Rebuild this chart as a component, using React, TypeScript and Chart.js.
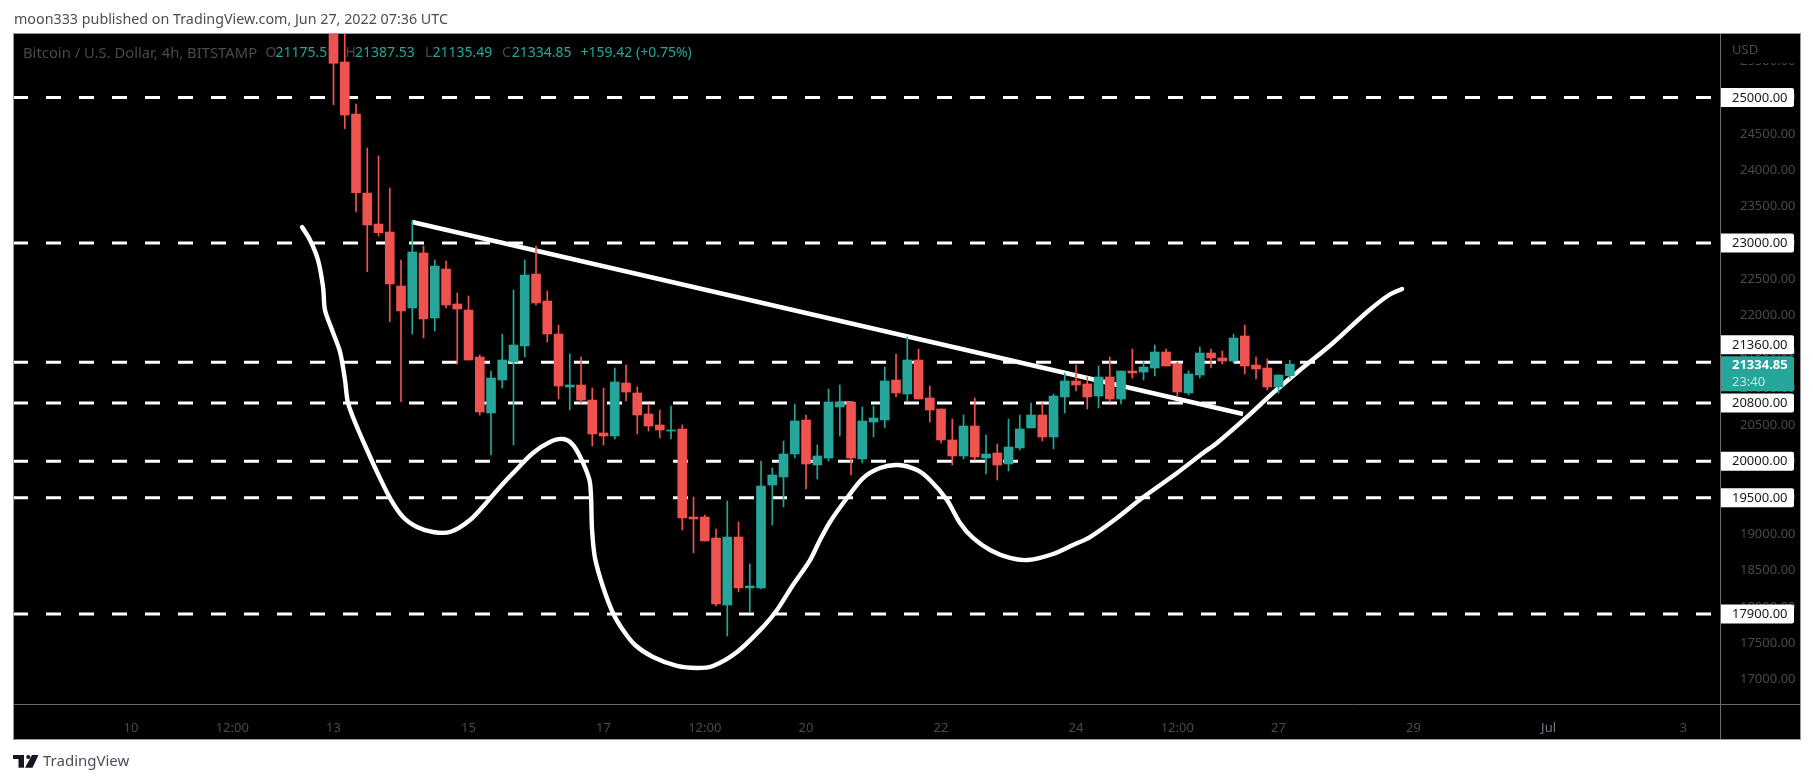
import React, { useEffect, useRef } from "react";
import { Chart, registerables } from "chart.js";

Chart.register(...registerables);

// x values are 4h candle numbers counted from Jun 10 00:00
const firstCandle = 18;
const opens = [26500,25488,24773,23687,23261,23151,22409,22107,22863,21969,22643,22162,22079,21433,20664,21117,21365,21585,22574,22203,21749,21021,21049,20842,20389,20348,21076,20939,20650,20499,20416,20444,19234,19234,18946,18025,18959,18259,18259,19674,19784,20100,20568,19949,20045,20746,20815,20032,20540,20568,21117,20925,21392,20870,20719,20293,20073,20485,20045,20114,19963,20183,20458,20636,20334,20884,21104,21063,20897,21159,20856,21241,21227,21282,21502,21337,20939,21186,21488,21420,21378,21722,21323,21282,21021,21175.51];
const highs = [26700,26000,24911,24306,24196,23756,22767,23307,22959,22767,22753,22313,22272,21461,21241,21749,22354,22767,22959,22340,21873,21475,21433,21007,21007,21282,21323,21021,20787,20705,20760,20499,19509,19262,19069,19454,19166,18588,20004,19908,20279,20787,20636,20224,20994,21049,20815,20746,20760,21296,21475,21708,21543,21035,20719,20581,20636,20870,20361,20238,20581,20636,20801,20801,20925,21213,21323,21159,21310,21433,21241,21543,21378,21598,21543,21365,21241,21571,21543,21516,21749,21873,21433,21406,21186,21387.53];
const lows = [24901,24571,23426,22606,23096,21919,20819,21749,21695,21791,22107,21337,21392,20636,20087,21007,20224,21433,22148,21640,20856,20705,20801,20210,20224,20306,20829,20375,20416,20320,20306,19056,18740,18905,18011,17599,18204,17929,18245,19124,19372,20045,19619,19757,20004,20348,19812,19977,20334,20458,20884,20829,20856,20540,20251,19949,20032,20018,19825,19743,19867,20155,20458,20279,20169,20664,20966,20719,20733,20815,20787,21145,21117,21172,21310,20897,20911,21145,21282,21337,21351,21200,21131,20980,20939,21135.49];
const closes = [25470,24759,23692,23248,23142,22437,22066,22877,21956,22684,22148,22093,21392,20678,21145,21392,21598,22560,22176,21749,21035,21049,20842,20375,20348,21090,20952,20636,20485,20430,20430,19221,19207,18905,18039,18959,18259,18286,19660,19812,20100,20554,19963,20073,20815,20815,20045,20554,20595,21104,20939,21392,20856,20705,20293,20073,20485,20059,20100,19949,20196,20444,20636,20334,20897,21104,21049,20884,21159,20856,21241,21213,21296,21502,21310,20952,21200,21488,21420,21378,21695,21310,21269,21021,21186,21334.85];

const levels = [25000, 23000, 21360, 20800, 20000, 19500, 17900];

const trendX = [24.98, 98.84];
const trendY = [23289, 20650];

const curveX = [15.2,15.91,16.62,17.07,17.24,17.87,18.58,19.02,19.29,20.09,20.98,21.87,23.02,24.18,25.42,26.84,28.36,30.13,31.64,32.8,33.96,35.73,37.24,38.4,39.29,40.18,40.8,40.98,41.24,41.96,42.84,43.73,44.8,46.4,48.53,50.31,51.73,53.87,56.18,57.42,58.84,60.36,61.24,62.13,63.64,65.07,66.58,68.18,69.87,71.02,72.53,73.69,74.84,76.36,78.13,79.73,81.96,83.73,85.24,87.64,89.87,92.98,95.29,96.53,99.2,101.51,103.91,106.84,109.87,111.82,112.98];
const curveY = [23220,23041,22767,22395,22079,21804,21502,21117,20801,20471,20155,19853,19495,19234,19097,19028,19028,19193,19441,19647,19839,20114,20265,20306,20224,19977,19702,19056,18671,18272,17915,17681,17475,17310,17187,17159,17187,17379,17723,17956,18300,18643,18918,19166,19495,19770,19908,19949,19880,19743,19468,19152,18946,18781,18671,18643,18726,18850,18959,19221,19495,19839,20114,20251,20609,20939,21255,21626,22052,22286,22368];

const xTickValues = [0, 9, 18, 30, 42, 51, 60, 72, 84, 93, 102, 114, 126, 138];
const xTickLabels = ["10", "12:00", "13", "15", "17", "12:00", "20", "22", "24", "12:00", "27", "29", "Jul", "3"];
const yTickValues = [25500,25000,24500,24000,23500,23000,22500,22000,21500,21000,20500,20000,19500,19000,18500,18000,17500,17000];

const boxedPrices = [25000, 23000, 21360, 20800, 20000, 19500, 17900];
const boxedNudges = [0, 0, -17.5, 0, 0, 0, 0];

const lastPrice = 21334.85;
const countdown = "23:40";
const publishedText = "moon333 published on TradingView.com, Jun 27, 2022 07:36 UTC";
const symbolText = "Bitcoin / U.S. Dollar, 4h, BITSTAMP";
const ohlcText = [["O", "21175.51"], ["H", "21387.53"], ["L", "21135.49"], ["C", "21334.85"]];
const changeText = "+159.42 (+0.75%)";

const RED = "#ef5350";
const TEAL = "#26a69a";
const DIM = "#4a4a4a";
const FONT = "'Noto Sans', sans-serif";

const frame = { l: 13, t: 34, r: 1800, b: 739, ax: 1720, ay: 704 };

const overlay = {
  id: "overlay",
  beforeDraw(c: any) {
    const x = c.ctx;
    x.save();
    x.fillStyle = "#fff";
    x.fillRect(0, 0, c.width, c.height);
    x.fillStyle = "#000";
    x.fillRect(frame.l, frame.t, frame.r - frame.l, frame.b - frame.t);
    x.restore();
  },
  beforeDatasetsDraw(c: any) {
    const x = c.ctx;
    x.save();
    x.font = `14.8px ${FONT}`;
    x.textBaseline = "middle";
    x.textAlign = "left";
    x.fillStyle = DIM;
    x.fillText(symbolText, 23, 53.5);
    x.font = `14px ${FONT}`;
    const lx = [265.5, 345.5, 425, 502];
    const vx = [275.5, 355, 432.5, 511.7];
    ohlcText.forEach(([k, v], i) => {
      x.fillStyle = DIM;
      x.fillText(k, lx[i], 53.5);
      x.fillStyle = TEAL;
      x.fillText(v, vx[i], 53.5);
    });
    x.fillStyle = TEAL;
    x.fillText(changeText, 580.5, 53.5);
    x.restore();
  },
  afterDraw(c: any) {
    const x = c.ctx;
    const y = c.scales.y;
    x.save();
    // top of the price axis
    x.fillStyle = "#000";
    x.fillRect(frame.ax + 1, frame.t + 1, frame.r - frame.ax - 2, 28);
    x.font = `13px ${FONT}`;
    x.textBaseline = "middle";
    x.textAlign = "left";
    x.fillStyle = DIM;
    x.fillText("USD", 1732, 50);

    boxedPrices.forEach((p, i) => {
      const cy = y.getPixelForValue(p) + boxedNudges[i];
      x.fillStyle = "#fff";
      x.beginPath();
      x.roundRect(frame.ax, cy - 9.5, 74, 19, [0, 2, 2, 0]);
      x.fill();
      x.fillStyle = "#131722";
      x.fillText(p.toFixed(2), 1732, cy + 0.5);
    });

    const ly = y.getPixelForValue(lastPrice) + 9.5;
    x.fillStyle = TEAL;
    x.beginPath();
    x.roundRect(frame.ax, ly - 17.5, 74, 35, [0, 2, 2, 0]);
    x.fill();
    x.fillStyle = "#fff";
    x.font = `bold 13px ${FONT}`;
    x.fillText(lastPrice.toFixed(2), 1732, ly - 8);
    x.fillStyle = "#c4e6e2";
    x.font = `13px ${FONT}`;
    x.fillText(countdown, 1732, ly + 8.5);

    // white margin left of the frame line
    x.fillStyle = "#fff";
    x.fillRect(0, frame.t - 1, frame.l + 1, frame.b - frame.t + 2);

    // frame
    x.strokeStyle = "#9598a1";
    x.lineWidth = 1;
    x.strokeRect(frame.l + 0.5, frame.t - 0.5, frame.r - frame.l, frame.b - frame.t + 1);
    x.strokeStyle = "#6b6b6b";
    x.beginPath();
    x.moveTo(frame.ax + 0.5, frame.t);
    x.lineTo(frame.ax + 0.5, frame.b);
    x.moveTo(frame.l + 1, frame.ay + 0.5);
    x.lineTo(frame.r, frame.ay + 0.5);
    x.stroke();

    // header and footer
    x.fillStyle = "#4a4d57";
    x.font = `14.3px ${FONT}`;
    x.fillText(publishedText, 14, 20);
    x.fillStyle = "#131722";
    x.fillRect(13, 755, 11, 4);
    x.fillRect(18.5, 755, 5.5, 12.7);
    x.beginPath();
    x.arc(28.3, 757, 2.1, 0, Math.PI * 2);
    x.fill();
    x.beginPath();
    x.moveTo(32, 755);
    x.lineTo(38.5, 755);
    x.lineTo(32.5, 767.7);
    x.lineTo(25, 767.7);
    x.fill();
    x.fillStyle = "#4a4d57";
    x.font = `15px ${FONT}`;
    x.fillText("TradingView", 43, 761.7);
    x.restore();
  },
};

export default function App() {
  const ref = useRef<HTMLCanvasElement>(null);
  useEffect(() => {
    document.body.style.margin = "0";
    const xMin = -10.49;
    const xMax = 141.24;
    const idx = opens.map((_, i) => firstCandle + i);
    const colors = opens.map((o, i) => (closes[i] >= o ? TEAL : RED));
    const chart = new Chart(ref.current as HTMLCanvasElement, {
      data: {
        datasets: [
          ...levels.map((v) => ({
            type: "line" as const,
            data: [{ x: xMin, y: v }, { x: xMax, y: v }],
            borderColor: "#fff",
            borderWidth: 3,
            borderDash: [15, 18],
            pointRadius: 0,
            order: 5,
          })),
          {
            type: "line" as const,
            data: trendX.map((v, i) => ({ x: v, y: trendY[i] })),
            borderColor: "#fff",
            borderWidth: 4.4,
            pointRadius: 0,
            order: 4,
          },
          {
            type: "line" as const,
            data: curveX.map((v, i) => ({ x: v, y: curveY[i] })),
            borderColor: "#fff",
            borderWidth: 4.4,
            borderCapStyle: "round" as const,
            borderJoinStyle: "round" as const,
            tension: 0.3,
            pointRadius: 0,
            order: 4,
          },
          {
            type: "bar" as const,
            data: idx.map((v, i) => ({ x: v, y: [lows[i], highs[i]] })),
            backgroundColor: colors,
            barThickness: 1,
            grouped: false,
            order: 2,
          },
          {
            type: "bar" as const,
            data: idx.map((v, i) => ({ x: v, y: [opens[i], closes[i]] })),
            backgroundColor: colors,
            barThickness: 9,
            grouped: false,
            order: 1,
          },
        ],
      } as any,
      options: {
        animation: false,
        responsive: false,
        devicePixelRatio: 1,
        layout: { padding: { left: 13, top: 34, right: 13, bottom: 44 } },
        plugins: { legend: { display: false }, tooltip: { enabled: false } },
        scales: {
          x: {
            type: "linear",
            offset: false,
            min: xMin,
            max: xMax,
            grid: { display: false },
            border: { display: false },
            afterFit: (s: any) => { s.height = 35; },
            afterBuildTicks: (s: any) => { s.ticks = xTickValues.map((value) => ({ value })); },
            ticks: {
              autoSkip: false,
              maxRotation: 0,
              padding: 8,
              color: (t: any) => (xTickLabels[t.index] === "Jul" ? "#787b86" : DIM),
              font: { family: FONT, size: 13 },
              callback: (_v: any, i: number) => xTickLabels[i],
            },
          },
          y: {
            type: "linear",
            position: "right",
            min: 16664,
            max: 25873,
            grid: { display: false },
            border: { display: false },
            afterFit: (s: any) => { s.width = 80; },
            afterBuildTicks: (s: any) => { s.ticks = yTickValues.map((value) => ({ value })); },
            ticks: {
              autoSkip: false,
              padding: 12,
              color: DIM,
              font: { family: FONT, size: 13 },
              callback: (v: any) => Number(v).toFixed(2),
            },
          },
        },
      },
      plugins: [overlay],
    } as any);
    return () => chart.destroy();
  }, []);
  return (
    <div style={{ position: "fixed", left: 0, top: 0, width: 1813, height: 783, background: "#fff" }}>
      <canvas ref={ref} width={1813} height={783} style={{ display: "block" }} />
    </div>
  );
}
